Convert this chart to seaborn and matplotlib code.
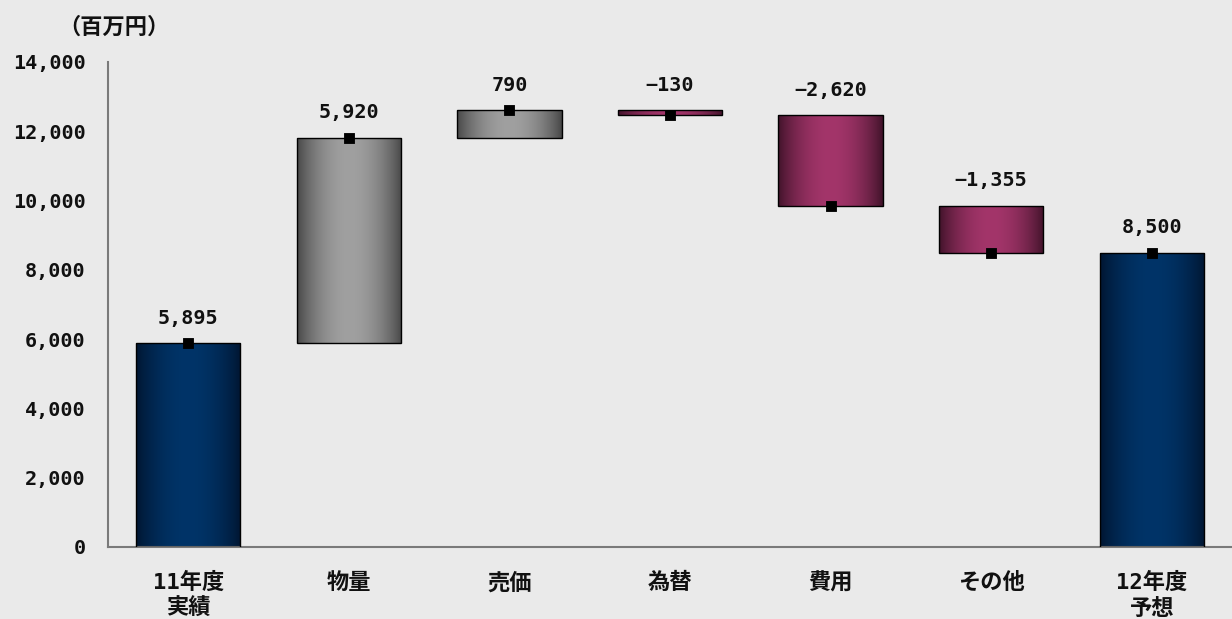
import numpy as np
import pandas as pd
import matplotlib
matplotlib.use("Agg")
import matplotlib.pyplot as plt
import seaborn as sns
from matplotlib.colors import to_rgb

# ---- data ----
categories = ["11年度\n実績", "物量", "売価", "為替", "費用", "その他", "12年度\n予想"]
changes = [5895, 5920, 790, -130, -2620, -1355, 8500]
kinds = ["total", "delta", "delta", "delta", "delta", "delta", "total"]
labels = ["5,895", "5,920", "790", "−130", "−2,620", "−1,355", "8,500"]
unit_label = "（百万円）"
yticks = [0, 2000, 4000, 6000, 8000, 10000, 12000, 14000]

# ---- derived waterfall geometry ----
bottoms, tops, ends = [], [], []
running = 0
for v, k in zip(changes, kinds):
    if k == "total":
        b, t = 0, v
        running = v
    else:
        start = running
        running = start + v
        b, t = min(start, running), max(start, running)
    bottoms.append(b)
    tops.append(t)
    ends.append(running)

df = pd.DataFrame({"cat": categories, "top": tops, "bottom": bottoms,
                   "end": ends, "label": labels, "change": changes, "kind": kinds})

sns.set_theme(style="white")
FAM = ["DejaVu Sans Mono", "Noto Sans CJK JP", "DejaVu Sans"]
plt.rcParams["font.family"] = FAM
plt.rcParams["font.weight"] = "bold"

fig = plt.figure(figsize=(12.32, 6.19), dpi=100)
fig.patch.set_facecolor("#eaeaea")
ax = fig.add_axes([108 / 1232, 1 - 547 / 619, 1 - 108 / 1232, (547 - 62) / 619])
ax.set_facecolor("none")

bw = 0.65
sns.barplot(data=df, x="cat", y="top", ax=ax, width=bw, color="#888888",
            edgecolor="black", linewidth=1.0, saturation=1, zorder=3)

def grad_colors(kind, change):
    if kind == "total":
        return to_rgb("#001530"), to_rgb("#003468")
    if change > 0:
        return to_rgb("#454545"), to_rgb("#a0a0a0")
    return to_rgb("#3e1228"), to_rgb("#a3356a")

t = np.linspace(0, 1, 200)
prof = np.sin(np.pi * t) ** 0.8
for patch, b, tp, k, c in zip(ax.patches, df["bottom"], df["top"], df["kind"], df["change"]):
    patch.set_y(b)
    patch.set_height(tp - b)
    dark, light = grad_colors(k, c)
    dark, light = np.array(dark), np.array(light)
    img = dark[None, :] + (light - dark)[None, :] * prof[:, None]
    img = img[None, :, :]
    x0 = patch.get_x()
    w = patch.get_width()
    im = ax.imshow(img, extent=[x0, x0 + w, b, tp], aspect="auto",
                   zorder=2, interpolation="bilinear")
    im.set_clip_path(patch)
    patch.set_facecolor("none")

sns.scatterplot(data=df, x="cat", y="end", ax=ax, marker="s", s=60,
                color="black", edgecolor="black", zorder=5, legend=False)

for i, (tp, lab) in enumerate(zip(df["top"], df["label"])):
    ax.annotate(lab, (i, tp), xytext=(0, 11), textcoords="offset points",
                ha="center", va="bottom", fontsize=14.5, fontweight="bold",
                color="#111111", family=FAM)

ax.set_xlim(-0.5, len(categories) - 0.5)
ax.set_ylim(0, 14000)
ax.set_yticks(yticks)
ax.set_yticklabels([f"{v:,}" for v in yticks], fontsize=14.5, fontweight="bold",
                   color="#111111", family=FAM)
ax.set_xticks(range(len(categories)))
ax.set_xticklabels(categories, fontsize=16, fontweight="bold", color="#111111",
                   linespacing=1.3, family=FAM)
ax.set_xlabel("")
ax.set_ylabel("")

# category boundary ticks + small center ticks
ax.tick_params(axis="x", which="major", length=4, direction="in", color="#777777",
               pad=18, width=1)
ax.set_xticks(np.arange(0.5, len(categories) - 0.5, 1), minor=True)
ax.tick_params(axis="x", which="minor", length=14, direction="inout",
               color="#777777", width=1)
ax.tick_params(axis="y", length=0, pad=16)

for s in ["top", "right"]:
    ax.spines[s].set_visible(False)
for s in ["left", "bottom"]:
    ax.spines[s].set_color("#7a7a7a")
    ax.spines[s].set_linewidth(1.5)

fig.text(58 / 1232, 1 - 27 / 619, unit_label, fontsize=16, fontweight="bold",
         color="#111111", va="center", ha="left", family=FAM)

fig.savefig("out.png", dpi=100, facecolor=fig.get_facecolor())
